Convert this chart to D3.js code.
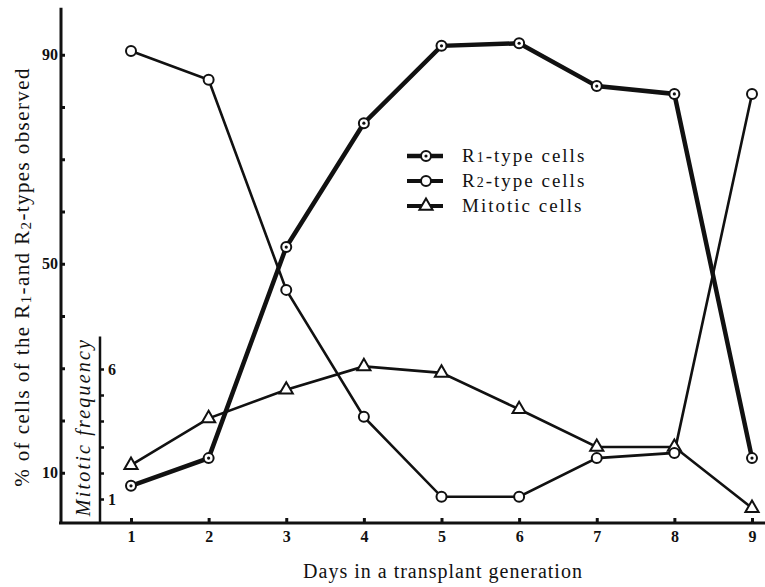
<!DOCTYPE html>
<html>
<head>
<meta charset="utf-8">
<script src="https://cdn.jsdelivr.net/npm/d3@7"></script>
<style>
  body { margin: 0; background: #fff; }
  text { font-family: "Liberation Serif", "DejaVu Serif", serif; fill: #111; }
</style>
</head>
<body>
<div id="chart"></div>
<script>
// data
let days = [1, 2, 3, 4, 5, 6, 7, 8, 9];
let r1Cells = [7.5, 12.8, 53.2, 76.9, 91.7, 92.2, 84.0, 82.5, 12.8];
let r2Cells = [90.7, 85.2, 45.0, 20.7, 5.4, 5.4, 12.8, 13.8, 82.5];
let mitoticCells = [2.3, 4.1, 5.2, 6.1, 5.85, 4.45, 3.0, 3.0, 0.65];
let percentTicks = [10, 20, 30, 40, 50, 60, 70, 80, 90];
let percentLabels = [10, 50, 90];
let mitoticTicks = [1, 2, 3, 4, 5, 6];
let mitoticLabels = [1, 6];

let svgWidth = 765;
let svgHeight = 587;

let svg = d3.select('#chart')
  .append('svg')
  .attr('width', svgWidth)
  .attr('height', svgHeight);

// scales
let x = d3.scaleLinear().domain([1, 9]).range([131, 752]);
let y = d3.scaleLinear().domain([0, 100]).range([525, 2.5]);
let m = d3.scaleLinear().domain([0, 7]).range([525, 343]);

let leftX = 61;
let mitX = 100;
let baseY = 523;

// left percent axis
let leftAxis = d3.axisLeft(y)
  .tickValues(percentTicks)
  .tickSizeInner(-4)
  .tickSizeOuter(0)
  .tickPadding(3)
  .tickFormat(d => percentLabels.includes(d) ? d : '');

let gLeft = svg.append('g')
  .attr('transform', `translate(${leftX},0)`)
  .call(leftAxis);
gLeft.select('.domain').remove();
gLeft.selectAll('.tick line').attr('stroke', '#111').attr('stroke-width', 3);
gLeft.selectAll('.tick text')
  .style('font-family', '"Liberation Serif", serif')
  .style('font-weight', 'bold')
  .style('font-size', '16px');
gLeft.append('line')
  .attr('x1', 0).attr('x2', 0)
  .attr('y1', baseY).attr('y2', y(99))
  .attr('stroke', '#111').attr('stroke-width', 3);

// mitotic axis
let mitAxis = d3.axisRight(m)
  .tickValues(mitoticTicks)
  .tickSizeInner(4)
  .tickSizeOuter(0)
  .tickPadding(4)
  .tickFormat(d => mitoticLabels.includes(d) ? d : '');

let gMit = svg.append('g')
  .attr('transform', `translate(${mitX},0)`)
  .call(mitAxis);
gMit.select('.domain').remove();
gMit.selectAll('.tick line').attr('stroke', '#111').attr('stroke-width', 2.5);
gMit.selectAll('.tick text')
  .style('font-family', '"Liberation Serif", serif')
  .style('font-weight', 'bold')
  .style('font-size', '16px');
gMit.append('line')
  .attr('x1', 0).attr('x2', 0)
  .attr('y1', baseY).attr('y2', m(7.25))
  .attr('stroke', '#111').attr('stroke-width', 2.5);

// x axis
let bottomAxis = d3.axisBottom(x)
  .tickValues(days)
  .tickSizeInner(-5)
  .tickSizeOuter(0)
  .tickPadding(8);

let gX = svg.append('g')
  .attr('transform', `translate(0,${baseY})`)
  .call(bottomAxis);
gX.select('.domain').remove();
gX.selectAll('.tick line').attr('stroke', '#111').attr('stroke-width', 3);
gX.selectAll('.tick text')
  .style('font-family', '"Liberation Serif", serif')
  .style('font-weight', 'bold')
  .style('font-size', '16px');
gX.append('line')
  .attr('x1', leftX - 2).attr('x2', svgWidth)
  .attr('y1', 0).attr('y2', 0)
  .attr('stroke', '#111').attr('stroke-width', 3);

// axis titles
svg.append('text')
  .attr('x', 443).attr('y', 578)
  .attr('text-anchor', 'middle')
  .style('font-size', '20px')
  .style('letter-spacing', '1px')
  .text('Days in a transplant generation');

let yTitle = svg.append('text')
  .attr('transform', 'translate(29,277) rotate(-90)')
  .attr('text-anchor', 'middle')
  .style('font-size', '21px')
  .style('letter-spacing', '1.4px');
yTitle.append('tspan').text('% of cells of the R');
yTitle.append('tspan').attr('font-size', '15px').attr('dy', 2).text('1');
yTitle.append('tspan').attr('dy', -2).text('-and R');
yTitle.append('tspan').attr('font-size', '15px').attr('dy', 2).text('2');
yTitle.append('tspan').attr('dy', -2).text('-types observed');

svg.append('text')
  .attr('transform', 'translate(90,427) rotate(-90)')
  .attr('text-anchor', 'middle')
  .style('font-size', '20px')
  .style('font-style', 'italic')
  .style('letter-spacing', '2.2px')
  .text('Mitotic frequency');

// lines
let lineP = d3.line().x((d, i) => x(days[i])).y(d => y(d));
let lineM = d3.line().x((d, i) => x(days[i])).y(d => m(d));

svg.append('path').datum(r2Cells)
  .attr('d', lineP).attr('fill', 'none')
  .attr('stroke', '#111').attr('stroke-width', 2.6);
svg.append('path').datum(mitoticCells)
  .attr('d', lineM).attr('fill', 'none')
  .attr('stroke', '#111').attr('stroke-width', 2.6);
svg.append('path').datum(r1Cells)
  .attr('d', lineP).attr('fill', 'none')
  .attr('stroke', '#111').attr('stroke-width', 4.5);

// markers
let tri = d3.symbol().type(d3.symbolTriangle).size(75);

svg.selectAll('.mit').data(mitoticCells).enter()
  .append('path').classed('mit', true)
  .attr('d', tri)
  .attr('transform', (d, i) => `translate(${x(days[i])},${m(d)})`)
  .attr('fill', '#fff').attr('stroke', '#111').attr('stroke-width', 2);

svg.selectAll('.r2').data(r2Cells).enter()
  .append('circle').classed('r2', true)
  .attr('cx', (d, i) => x(days[i])).attr('cy', d => y(d))
  .attr('r', 5)
  .attr('fill', '#fff').attr('stroke', '#111').attr('stroke-width', 2);

svg.selectAll('.r1').data(r1Cells).enter()
  .append('circle').classed('r1', true)
  .attr('cx', (d, i) => x(days[i])).attr('cy', d => y(d))
  .attr('r', 5)
  .attr('fill', '#fff').attr('stroke', '#111').attr('stroke-width', 2);
svg.selectAll('.r1dot').data(r1Cells).enter()
  .append('circle').classed('r1dot', true)
  .attr('cx', (d, i) => x(days[i])).attr('cy', d => y(d))
  .attr('r', 1.6)
  .attr('fill', '#111');

// legend
let legendRows = [
  { label: 'R', sub: '1', rest: '-type cells', kind: 'r1' },
  { label: 'R', sub: '2', rest: '-type cells', kind: 'r2' },
  { label: 'Mitotic cells', sub: '', rest: '', kind: 'mit' }
];

let legend = svg.append('g').attr('transform', 'translate(407,156)');
legendRows.forEach(function (row, i) {
  let g = legend.append('g').attr('transform', `translate(0,${i * 25})`);
  g.append('line')
    .attr('x1', 0).attr('x2', 36)
    .attr('stroke', '#111').attr('stroke-width', row.kind === 'r1' ? 4.5 : 4);
  if (row.kind === 'mit') {
    g.append('path').attr('d', tri).attr('transform', 'translate(19,0)')
      .attr('fill', '#fff').attr('stroke', '#111').attr('stroke-width', 2);
  } else {
    g.append('circle').attr('cx', 19).attr('r', 5)
      .attr('fill', '#fff').attr('stroke', '#111').attr('stroke-width', 2);
    if (row.kind === 'r1') {
      g.append('circle').attr('cx', 19).attr('r', 1.6).attr('fill', '#111');
    }
  }
  let t = g.append('text')
    .attr('x', 55).attr('y', 6)
    .style('font-size', '19px')
    .style('letter-spacing', '2px');
  t.append('tspan').text(row.label);
  if (row.sub) {
    t.append('tspan').attr('font-size', '14px').text(row.sub);
    t.append('tspan').text(row.rest);
  }
});
</script>
</body>
</html>
